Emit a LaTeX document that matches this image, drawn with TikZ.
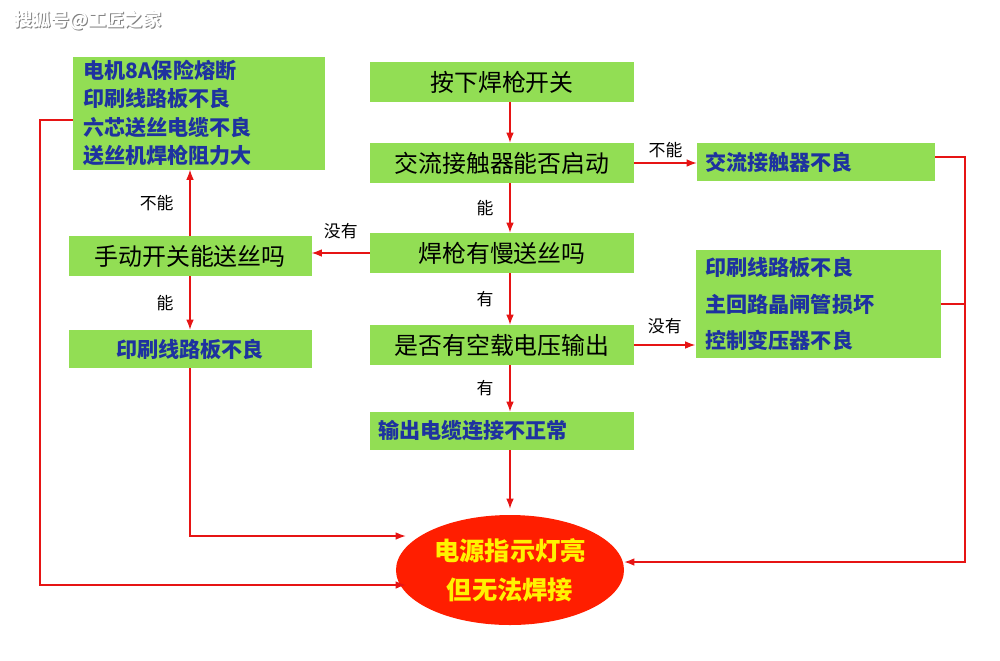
\documentclass[tikz,border=0pt]{standalone}
\usepackage{fontspec}
\newfontfamily\cjk{Noto Sans CJK SC}
\usetikzlibrary{arrows.meta,calc,shapes.geometric}
\definecolor{boxgreen}{RGB}{146,222,84}
\definecolor{txtblue}{RGB}{30,50,160}
\definecolor{linered}{RGB}{230,20,20}
\definecolor{ovalred}{RGB}{255,30,0}
\tikzset{line/.style={draw=linered, thick, -{Latex[length=2.5mm]}}}

\begin{document}
\begin{tikzpicture}[x=0.025cm, y=-0.025cm, font=\cjk]
\tikzstyle{block} = [rectangle, fill=boxgreen, inner sep=0pt, font=\cjk\fontsize{17}{20}\selectfont]
\tikzstyle{fault} = [block, text=txtblue, font=\cjk\bfseries\fontsize{15}{20}\selectfont]
\tikzstyle{lbl} = [font=\cjk\fontsize{12}{14}\selectfont]
\useasboundingbox (0,0) rectangle (1000,660);

\node at (89,21) [font=\cjk\bfseries\fontsize{13}{15}\selectfont, text=gray] {搜狐号@工匠之家};
\node at (88,20) [font=\cjk\bfseries\fontsize{13}{15}\selectfont, text=white] (mark) {搜狐号@工匠之家};

\node [fault, minimum width=252*0.025cm, minimum height=113*0.025cm, align=left, text width=232*0.025cm] (causes) at (199,113) {电机8A保险熔断\\印刷线路板不良\\六芯送丝电缆不良\\送丝机焊枪阻力大};
\node [block, minimum width=264*0.025cm, minimum height=40*0.025cm] (press) at (502,82) {按下焊枪开关};
\node [block, minimum width=264*0.025cm, minimum height=40*0.025cm] (contactor) at (502,163) {交流接触器能否启动};
\node [fault, minimum width=238*0.025cm, minimum height=38*0.025cm, align=left, text width=222*0.025cm] (badcont) at (816,162) {交流接触器不良};
\node [block, minimum width=264*0.025cm, minimum height=40*0.025cm] (slowfeed) at (502,253) {焊枪有慢送丝吗};
\node [block, minimum width=243*0.025cm, minimum height=40*0.025cm] (manual) at (190,256) {手动开关能送丝吗};
\node [fault, minimum width=243*0.025cm, minimum height=38*0.025cm] (pcbleft) at (190,349) {印刷线路板不良};
\node [block, minimum width=264*0.025cm, minimum height=40*0.025cm] (noload) at (502,345) {是否有空载电压输出};
\node [fault, minimum width=245*0.025cm, minimum height=108*0.025cm, align=left, text width=225*0.025cm, font=\cjk\bfseries\fontsize{15}{26}\selectfont] (multi) at (818,304) {印刷线路板不良\\主回路晶闸管损坏\\控制变压器不良};
\node [fault, minimum width=264*0.025cm, minimum height=38*0.025cm, align=left, text width=248*0.025cm] (cable) at (502,431) {输出电缆连接不正常};
\node [ellipse, fill=ovalred, minimum width=216*0.025cm, minimum height=110*0.025cm, text=yellow, align=center, font=\cjk\bfseries\fontsize{18}{28}\selectfont] (result) at (510,570) {电源指示灯亮\\但无法焊接};

\coordinate (leftin) at (190,536);
\coordinate (farleft) at (40,585);
\coordinate (farright) at (965,562);

\path [line] (press.south -| result) -- (contactor.north -| result);
\path [line] (contactor.east) -- node [lbl, above] {不能} (contactor.east -| badcont.west);
\path [line] (contactor.south -| result) -- node [lbl, left=8pt] {能} (slowfeed.north -| result);
\path [line] (slowfeed.west) -- node [lbl, above=6pt, pos=0.5] {没有} (manual.east |- slowfeed.west);
\path [line] (manual.north) -- node [lbl, left=8pt] {不能} (causes.south -| manual);
\path [line] (manual) -- node [lbl, left=8pt] {能} (pcbleft);
\path [line] (slowfeed.south -| result) -- node [lbl, left=8pt] {有} (noload.north -| result);
\path [line] (noload.east) -- node [lbl, above=4pt] {没有} (noload.east -| multi.west);
\path [line] (noload.south -| result) -- node [lbl, left=8pt] {有} (cable.north -| result);
\path [line] (cable.south -| result) -- ($(result.north)+(0,-6)$);
\path [line] (pcbleft.south -| leftin) -- (leftin) -- ($(result.west |- leftin)+(10,0)$);
\path [line] (causes.west |- 0,120) -| (farleft) -- ($(result.west |- farleft)+(10,0)$);
\path [line] (badcont.east |- 0,157) -| (farright) -- (result.east |- farright);
\draw [linered, thick] (multi.east) -- (multi.east -| farright);
\end{tikzpicture}
\end{document}
